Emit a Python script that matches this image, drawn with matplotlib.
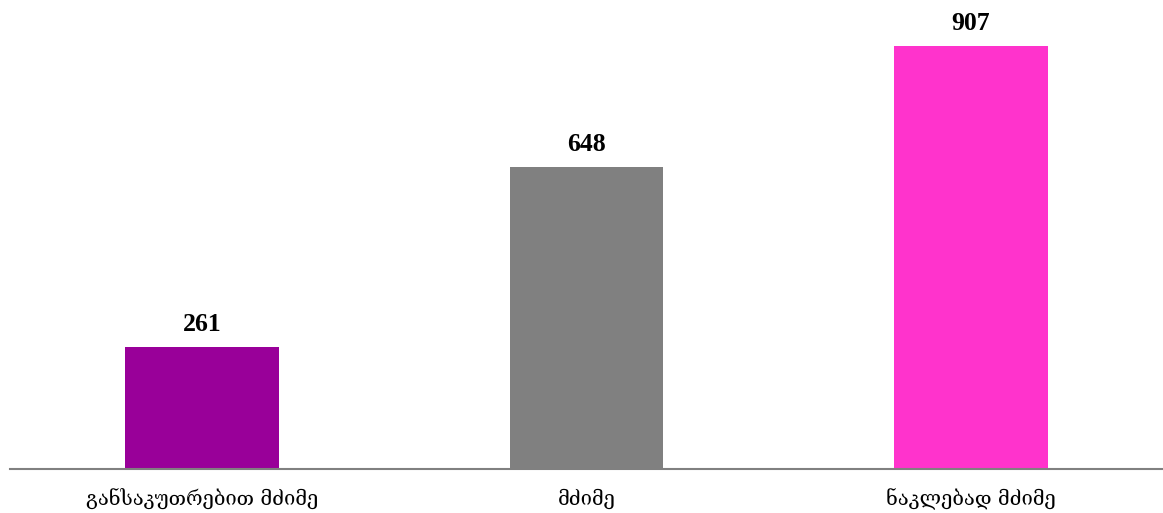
import matplotlib
matplotlib.use("Agg")
import matplotlib.pyplot as plt

categories = ["განსაკუთრებით მძიმე", "მძიმე", "ნაკლებად მძიმე"]
values = [261, 648, 907]
colors = ["#990099", "#808080", "#FF33CC"]

fig = plt.figure(figsize=(11.63, 5.13), dpi=100)
ax = fig.add_axes([10/1163, (513-469)/513, 1153/1163, 466/513])
x = list(range(len(categories)))
bars = ax.bar(x, values, width=0.4, color=colors)
ax.set_xlim(-0.5, 2.5)
ax.set_ylim(0, 999)
for xi, v in zip(x, values):
    ax.annotate(str(v), (xi, v), xytext=(0, 8), textcoords="offset points",
                ha="center", va="bottom", fontsize=18.5, fontweight="bold",
                family=["Liberation Serif", "DejaVu Serif"])
ax.set_xticks(x)
ax.set_xticklabels(categories, family=["DejaVu Serif", "DejaVu Sans"], fontsize=14.5)
ax.tick_params(axis="x", length=0, pad=14)
ax.set_yticks([])
for s in ["top", "right", "left"]:
    ax.spines[s].set_visible(False)
ax.spines["bottom"].set_color("#808080")
ax.spines["bottom"].set_linewidth(1.5)
fig.savefig("out.png", dpi=100)
